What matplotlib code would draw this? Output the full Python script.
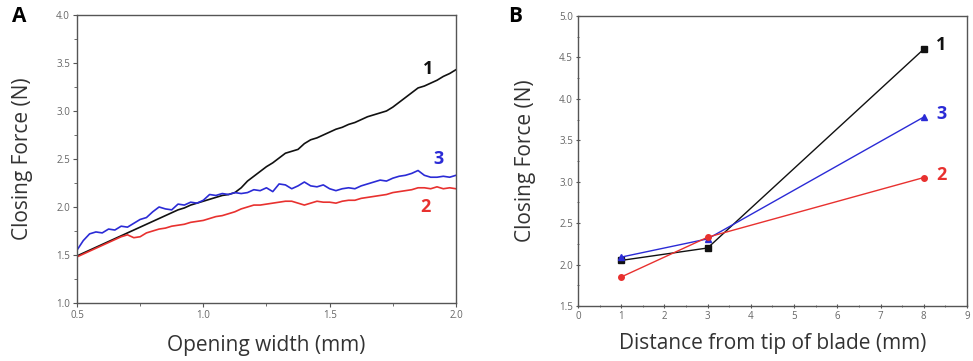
import matplotlib
matplotlib.use("Agg")
import matplotlib.pyplot as plt
from matplotlib.ticker import MultipleLocator

plt.rcParams['font.family'] = ['Open Sans', 'DejaVu Sans']

# Panel A data
opening_width = [0.5, 0.525, 0.55, 0.575, 0.6, 0.625, 0.65, 0.675, 0.7, 0.725,
                 0.75, 0.775, 0.8, 0.825, 0.85, 0.875, 0.9, 0.925, 0.95, 0.975,
                 1.0, 1.025, 1.05, 1.075, 1.1, 1.125, 1.15, 1.175, 1.2, 1.225,
                 1.25, 1.275, 1.3, 1.325, 1.35, 1.375, 1.4, 1.425, 1.45, 1.475,
                 1.5, 1.525, 1.55, 1.575, 1.6, 1.625, 1.65, 1.675, 1.7, 1.725,
                 1.75, 1.775, 1.8, 1.825, 1.85, 1.875, 1.9, 1.925, 1.95, 1.975, 2.0]
force_1 = [1.49, 1.52, 1.55, 1.58, 1.61, 1.64, 1.67, 1.70, 1.73, 1.76,
           1.79, 1.82, 1.85, 1.88, 1.91, 1.94, 1.97, 1.99, 2.02, 2.04,
           2.06, 2.08, 2.10, 2.12, 2.13, 2.15, 2.20, 2.27, 2.32, 2.37,
           2.42, 2.46, 2.51, 2.56, 2.58, 2.60, 2.66, 2.70, 2.72, 2.75,
           2.78, 2.81, 2.83, 2.86, 2.88, 2.91, 2.94, 2.96, 2.98, 3.00,
           3.04, 3.09, 3.14, 3.19, 3.24, 3.26, 3.29, 3.32, 3.36, 3.39, 3.43]
force_2 = [1.48, 1.51, 1.54, 1.57, 1.60, 1.63, 1.66, 1.69, 1.71, 1.68,
           1.69, 1.73, 1.75, 1.77, 1.78, 1.80, 1.81, 1.82, 1.84, 1.85,
           1.86, 1.88, 1.90, 1.91, 1.93, 1.95, 1.98, 2.00, 2.02, 2.02,
           2.03, 2.04, 2.05, 2.06, 2.06, 2.04, 2.02, 2.04, 2.06, 2.05,
           2.05, 2.04, 2.06, 2.07, 2.07, 2.09, 2.10, 2.11, 2.12, 2.13,
           2.15, 2.16, 2.17, 2.18, 2.20, 2.20, 2.19, 2.21, 2.19, 2.20, 2.19]
force_3 = [1.55, 1.65, 1.72, 1.74, 1.73, 1.77, 1.76, 1.80, 1.79, 1.83,
           1.87, 1.89, 1.95, 2.00, 1.98, 1.97, 2.03, 2.02, 2.05, 2.04,
           2.07, 2.13, 2.12, 2.14, 2.13, 2.15, 2.14, 2.15, 2.18, 2.17,
           2.20, 2.16, 2.24, 2.23, 2.19, 2.22, 2.26, 2.22, 2.21, 2.23,
           2.19, 2.17, 2.19, 2.20, 2.19, 2.22, 2.24, 2.26, 2.28, 2.27,
           2.30, 2.32, 2.33, 2.35, 2.38, 2.33, 2.31, 2.31, 2.32, 2.31, 2.33]

# Panel B data
distance = [1, 3, 8]
dist_force_1 = [2.05, 2.20, 4.60]
dist_force_2 = [1.85, 2.33, 3.05]
dist_force_3 = [2.09, 2.31, 3.78]

labels = ['1', '2', '3']
colors = ['#111111', '#e8312f', '#2b2bd6']

fig = plt.figure(figsize=(9.73, 3.61), dpi=100)
axA = fig.add_axes([0.0791, 0.1607, 0.3895, 0.7978])
axB = fig.add_axes([0.594, 0.1524, 0.3998, 0.8033])

spine_col = '#555555'
tick_col = '#666666'
label_col = '#333333'
label_fs = 15

# Panel A
axA.plot(opening_width, force_1, color=colors[0], lw=1.2)
axA.plot(opening_width, force_3, color=colors[2], lw=1.2)
axA.plot(opening_width, force_2, color=colors[1], lw=1.2)
axA.set_xlim(0.5, 2.0)
axA.set_ylim(1.0, 4.0)
axA.xaxis.set_major_locator(MultipleLocator(0.5))
axA.xaxis.set_minor_locator(MultipleLocator(0.25))
axA.yaxis.set_major_locator(MultipleLocator(0.5))
axA.yaxis.set_minor_locator(MultipleLocator(0.25))
axA.xaxis.set_major_formatter(plt.FormatStrFormatter('%.1f'))
axA.yaxis.set_major_formatter(plt.FormatStrFormatter('%.1f'))
axA.set_xlabel('Opening width (mm)', fontsize=label_fs, color=label_col, labelpad=10)
axA.set_ylabel('Closing Force (N)', fontsize=label_fs, color=label_col, labelpad=17)
axA.text(1.89, 3.44, labels[0], color=colors[0], fontsize=13, fontweight='bold', ha='center', va='center')
axA.text(1.93, 2.50, labels[2], color=colors[2], fontsize=13, fontweight='bold', ha='center', va='center')
axA.text(1.88, 2.00, labels[1], color=colors[1], fontsize=13, fontweight='bold', ha='center', va='center')

# Panel B
axB.plot(distance, dist_force_1, color=colors[0], lw=1.0, marker='s', ms=4)
axB.plot(distance, dist_force_3, color=colors[2], lw=1.0, marker='^', ms=5)
axB.plot(distance, dist_force_2, color=colors[1], lw=1.0, marker='o', ms=4)
axB.set_xlim(0, 9)
axB.set_ylim(1.5, 5.0)
axB.xaxis.set_major_locator(MultipleLocator(1))
axB.xaxis.set_minor_locator(MultipleLocator(0.5))
axB.yaxis.set_major_locator(MultipleLocator(0.5))
axB.yaxis.set_minor_locator(MultipleLocator(0.25))
axB.yaxis.set_major_formatter(plt.FormatStrFormatter('%.1f'))
axB.set_xlabel('Distance from tip of blade (mm)', fontsize=label_fs, color=label_col, labelpad=8)
axB.set_ylabel('Closing Force (N)', fontsize=label_fs, color=label_col, labelpad=17)
axB.text(8.40, 4.65, labels[0], color=colors[0], fontsize=13, fontweight='bold', ha='center', va='center')
axB.text(8.40, 3.82, labels[2], color=colors[2], fontsize=13, fontweight='bold', ha='center', va='center')
axB.text(8.40, 3.08, labels[1], color=colors[1], fontsize=13, fontweight='bold', ha='center', va='center')

for ax, d in ((axA, 'out'), (axB, 'inout')):
    for s in ax.spines.values():
        s.set_color(spine_col)
        s.set_linewidth(1.0)
    ax.tick_params(which='major', direction=d, length=3, width=0.8, color=spine_col,
                   labelsize=7, labelcolor=tick_col, pad=2)
    ax.tick_params(which='minor', direction=d, length=2, width=0.6, color=spine_col)

fig.text(0.012, 0.955, 'A', fontsize=15, fontweight='bold', ha='left', va='center')
fig.text(0.522, 0.955, 'B', fontsize=15, fontweight='bold', ha='left', va='center')

fig.savefig('out.png', dpi=100)
